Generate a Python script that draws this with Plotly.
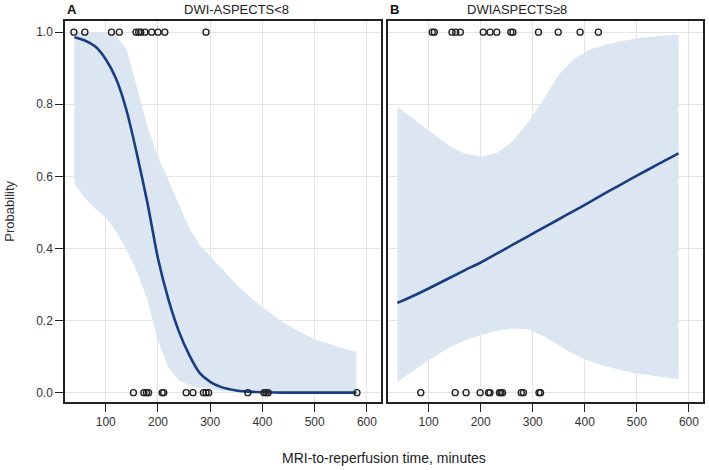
import plotly.graph_objects as go

# ---------------- data ----------------
# Panel A (DWI-ASPECTS<8)
a_x = [40, 60, 80, 100, 120, 140, 160, 180, 200, 220, 240, 260, 280, 300,
       320, 350, 380, 410, 440, 470, 500, 530, 560, 580]
a_fit = [0.986, 0.977, 0.960, 0.925, 0.870, 0.782, 0.660, 0.525, 0.372, 0.259,
         0.170, 0.104, 0.054, 0.030, 0.016, 0.006, 0.002, 0.001, 0.0, 0.0,
         0.0, 0.0, 0.0, 0.0]
a_upper = [1.0, 1.0, 0.999, 0.998, 0.99, 0.951, 0.847, 0.737, 0.655, 0.588,
           0.52, 0.457, 0.41, 0.378, 0.346, 0.30, 0.26, 0.226, 0.194, 0.17,
           0.148, 0.134, 0.12, 0.113]
a_lower = [0.58, 0.54, 0.51, 0.485, 0.447, 0.395, 0.335, 0.257, 0.144, 0.07,
           0.034, 0.02, 0.014, 0.009, 0.005, 0.002, 0.001, 0.0, 0.0, 0.0,
           0.0, 0.0, 0.0, 0.0]
a_obs1 = [39, 60, 111, 126, 158, 163, 167, 175, 188, 200, 213, 292]
a_obs0 = [153, 173, 178, 182, 208, 211, 254, 267, 287, 292, 297, 372, 403,
          407, 411, 581]

# Panel B (DWIASPECTS>=8)
b_x = [40, 70, 100, 140, 170, 200, 230, 260, 290, 320, 350, 380, 410, 440,
       470, 500, 540, 580]
b_fit = [0.249, 0.268, 0.289, 0.318, 0.340, 0.361, 0.385, 0.409, 0.433,
         0.457, 0.481, 0.505, 0.529, 0.554, 0.578, 0.602, 0.633, 0.664]
b_upper = [0.793, 0.76, 0.729, 0.684, 0.663, 0.655, 0.664, 0.695, 0.748,
           0.812, 0.882, 0.928, 0.952, 0.966, 0.975, 0.983, 0.989, 0.993]
b_lower = [0.030, 0.06, 0.09, 0.126, 0.145, 0.16, 0.171, 0.178, 0.176,
           0.158, 0.131, 0.106, 0.087, 0.073, 0.062, 0.053, 0.045, 0.037]
b_obs1 = [107, 111, 145, 152, 161, 205, 218, 231, 258, 262, 311, 349, 391, 426]
b_obs0 = [85, 151, 172, 199, 215, 218, 236, 239, 242, 278, 282, 312, 315]

x_ticks = [100, 200, 300, 400, 500, 600]
y_ticks = [0.0, 0.2, 0.4, 0.6, 0.8, 1.0]
y_tick_text = ["0.0", "0.2", "0.4", "0.6", "0.8", "1.0"]

BAND = "#dce6f2"
LINE = "#1a3d7f"
MARK = "#222222"

fig = go.Figure()


def add_panel(xs, fit, up, lo, obs1, obs0, xa, ya):
    fig.add_trace(go.Scatter(
        x=xs + xs[::-1], y=up + lo[::-1], fill="toself", fillcolor=BAND,
        line=dict(width=0, color=BAND), mode="lines", hoverinfo="skip",
        showlegend=False, xaxis=xa, yaxis=ya))
    fig.add_trace(go.Scatter(
        x=xs, y=fit, mode="lines",
        line=dict(color=LINE, width=2.6, shape="spline", smoothing=0.6),
        showlegend=False, xaxis=xa, yaxis=ya))
    fig.add_trace(go.Scatter(
        x=obs1 + obs0, y=[1.0] * len(obs1) + [0.0] * len(obs0), mode="markers",
        marker=dict(symbol="circle-open", size=6, color=MARK,
                    line=dict(width=1.4, color=MARK)),
        showlegend=False, xaxis=xa, yaxis=ya))


add_panel(a_x, a_fit, a_upper, a_lower, a_obs1, a_obs0, "x", "y")
add_panel(b_x, b_fit, b_upper, b_lower, b_obs1, b_obs0, "x2", "y2")

tickfont = dict(family="Liberation Sans, Arial, sans-serif", size=12, color="#333333")
axis_common = dict(
    showline=True, mirror=True, linecolor="#222222", linewidth=1.5,
    showgrid=True, gridcolor="#e4e4e4", gridwidth=1, zeroline=False,
    tickfont=tickfont, ticks="outside", ticklen=8, tickcolor="#222222", tickwidth=1,
)

fig.update_layout(
    width=709, height=470,
    margin=dict(l=65, r=4, t=21, b=68),
    plot_bgcolor="white", paper_bgcolor="white",
    xaxis=dict(domain=[0, 0.4953], range=[22, 627], tickvals=x_ticks, anchor="y", **axis_common),
    yaxis=dict(domain=[0, 1], range=[-0.026, 1.031], tickvals=y_ticks, ticktext=y_tick_text,
               anchor="x", **axis_common),
    xaxis2=dict(domain=[0.50625, 1], range=[22, 627], tickvals=x_ticks, anchor="y2", **axis_common),
    yaxis2=dict(domain=[0, 1], range=[-0.026, 1.031], tickvals=y_ticks, anchor="x2",
                **{**axis_common, "showticklabels": False, "ticks": ""}),
)

title_font = dict(family="Liberation Sans, Arial, sans-serif", size=13, color="#222222")
fig.add_annotation(text="<b>A</b>", xref="paper", yref="paper", x=0.0, y=1.031,
                   xanchor="left", yanchor="middle", showarrow=False,
                   font=dict(family="Liberation Sans, Arial, sans-serif", size=13, color="#111111"))
fig.add_annotation(text="DWI-ASPECTS<8", xref="paper", yref="paper", x=0.269, y=1.031,
                   xanchor="center", yanchor="middle", showarrow=False, font=title_font)
fig.add_annotation(text="<b>B</b>", xref="paper", yref="paper", x=0.506, y=1.031,
                   xanchor="left", yanchor="middle", showarrow=False,
                   font=dict(family="Liberation Sans, Arial, sans-serif", size=13, color="#111111"))
fig.add_annotation(text="DWIASPECTS≥8", xref="paper", yref="paper", x=0.708, y=1.031,
                   xanchor="center", yanchor="middle", showarrow=False, font=title_font)
fig.add_annotation(text="MRI-to-reperfusion time, minutes", xref="paper", yref="paper",
                   x=0.5, y=-0.147, xanchor="center", yanchor="middle", showarrow=False,
                   font=dict(family="Liberation Sans, Arial, sans-serif", size=14, color="#222222"))
fig.add_annotation(text="Probability", xref="paper", yref="paper", x=-0.0875, y=0.5,
                   xanchor="center", yanchor="middle", textangle=-90, showarrow=False,
                   font=dict(family="Liberation Sans, Arial, sans-serif", size=13, color="#333333"))

fig.write_html("out.html", config={"displayModeBar": False},
               post_script="document.body.style.margin='0px';document.body.style.overflow='hidden';")
